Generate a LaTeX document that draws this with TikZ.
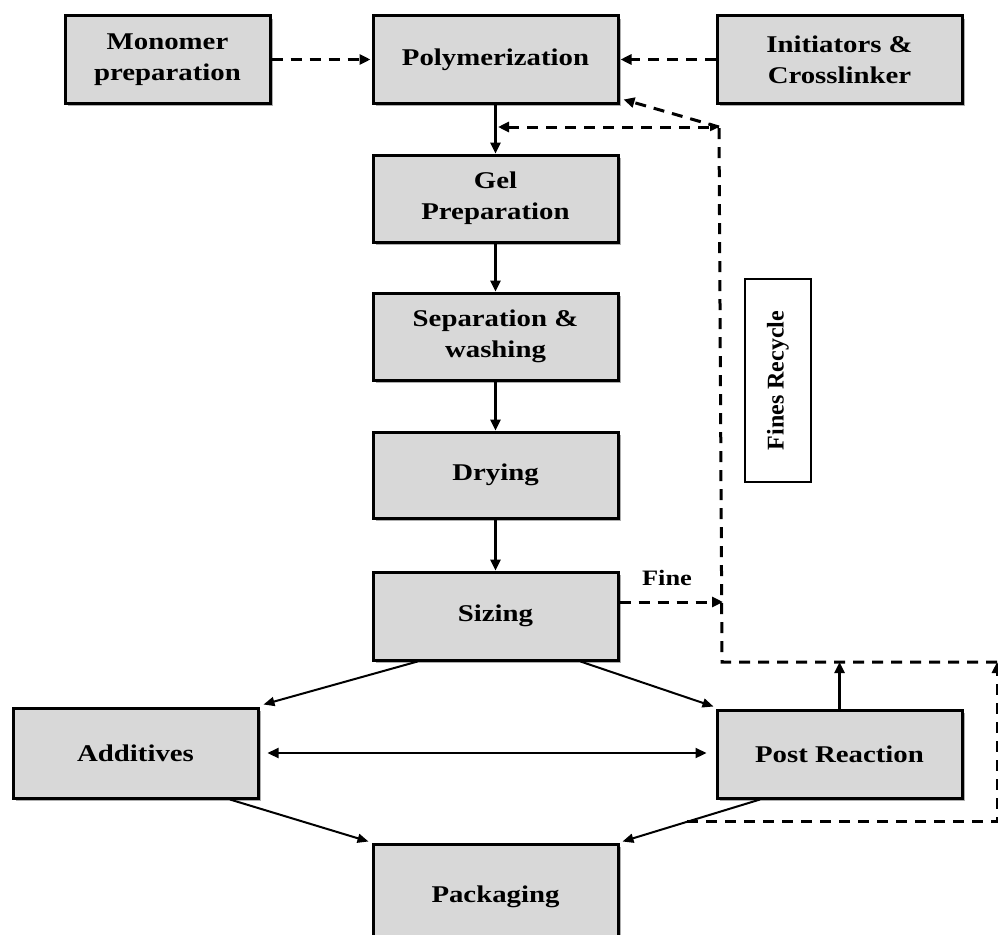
\documentclass[tikz,border=0pt]{standalone}
\usepackage{fontspec}
\setmainfont{Liberation Serif}[FakeStretch=1.2]
\newfontfamily\plainserif{Liberation Serif}
\usetikzlibrary{arrows.meta,shadows,calc}
\definecolor{boxgray}{RGB}{216,216,216}
\tikzset{
  pbox/.style={draw=black, line width=3pt, fill=boxgray, align=center,
    inner sep=2pt, font=\bfseries\fontsize{24}{31}\selectfont,
    drop shadow={shadow xshift=3pt, shadow yshift=-3pt, fill=black!45, opacity=0.7}},
  flow/.style={line width=2.5pt, -{Triangle[length=11pt,width=10pt]}},
  diag/.style={line width=2pt, -{Triangle[length=11pt,width=9pt]}},
  recyc/.style={line width=3pt, dash pattern=on 11pt off 8pt},
  rtip/.style={-{Triangle[length=11pt,width=10pt]}},
}
\begin{document}
\begin{tikzpicture}[x=1pt,y=-1pt]
\useasboundingbox (0,0) rectangle (998,934);
% boxes
\node[pbox, minimum width=205pt, minimum height=87pt] (mono) at (167.5,59.5) {Monomer\\preparation};
\node[pbox, minimum width=245pt, minimum height=87pt] (poly) at (495.5,59.5) {Polymerization};
\node[pbox, minimum width=245pt, minimum height=87pt] (init) at (839.5,59.5) {Initiators \&\\Crosslinker};
\node[pbox, minimum width=245pt, minimum height=87pt] (gel) at (495.5,198.5) {Gel\\Preparation};
\node[pbox, minimum width=245pt, minimum height=87pt] (sep) at (495.5,336.5) {Separation \&\\washing};
\node[pbox, minimum width=245pt, minimum height=86pt] (dry) at (495.5,475) {Drying};
\node[pbox, minimum width=245pt, minimum height=88pt] (siz) at (495.5,616) {Sizing};
\node[pbox, minimum width=245pt, minimum height=90pt] (add) at (135.5,753) {Additives};
\node[pbox, minimum width=245pt, minimum height=88pt] (post) at (839.5,754) {Post Reaction};
\node[pbox, minimum width=245pt, minimum height=106pt] (pack) at (495.5,897) {Packaging};
\node[draw=black, line width=2.4pt, fill=white, rotate=90, minimum width=203pt, minimum height=66pt,
  font=\plainserif\bfseries\fontsize{24}{28}\selectfont] (fines) at (778,380.5) {Fines Recycle};
\node[font=\bfseries\fontsize{22}{26}\selectfont, anchor=center] (finelbl) at (667,578) {Fine};

% recycle coordinates
\coordinate (rA) at ($([xshift=-79.5pt]post.south)!0.53!([xshift=3pt,yshift=1pt]pack.north east)$);
\coordinate (rC) at (997,662);
\coordinate (rB) at (rA -| rC);
\coordinate (rD) at (722,662);
\coordinate (rE) at (719,127);
\coordinate (rF) at (498,127);
\coordinate (rG) at (723,602);

% main flow
\draw[flow] (poly.south) -- (gel.north);
\draw[flow] (gel.south) -- (sep.north);
\draw[flow] (sep.south) -- (dry.north);
\draw[flow] (dry.south) -- (siz.north);

% feeds
\draw[recyc, rtip] (mono.east) -- ([xshift=-1pt]poly.west);
\draw[recyc, rtip] (init.west) -- ([xshift=1pt]poly.east);

% diagonals
\draw[diag] ([xshift=-78pt]siz.south) -- ([xshift=4pt,yshift=2pt]add.north east);
\draw[diag] ([xshift=85pt]siz.south) -- ([xshift=-2pt,yshift=2pt]post.north west);
\draw[diag] ([xshift=94.5pt]add.south) -- ([xshift=-3pt,yshift=1pt]pack.north west);
\draw[diag] ([xshift=-79.5pt]post.south) -- ([xshift=3pt,yshift=1pt]pack.north east);
\draw[line width=2.2pt, {Triangle[length=11pt,width=10pt]}-{Triangle[length=11pt,width=10pt]},
  shorten <=8pt, shorten >=9pt] (add.east) -- (add.east -| post.west);
\draw[flow] (post.north) -- (post.north |- rD);

% fines recycle loop
\draw[recyc, rtip] ([yshift=14pt]siz.east) -- (rG);
\draw[recyc, rtip] (rA) -- (rB) -- (rC);
\draw[recyc] (rC) -- (rD) -- (rE);
\draw[recyc, {Triangle[length=11pt,width=10pt]}-{Triangle[length=9pt,width=8pt]}] (rF) -- (rE);
\draw[recyc, rtip] (rE) -- ([xshift=4pt,yshift=5pt]poly.south east);
\end{tikzpicture}
\end{document}
